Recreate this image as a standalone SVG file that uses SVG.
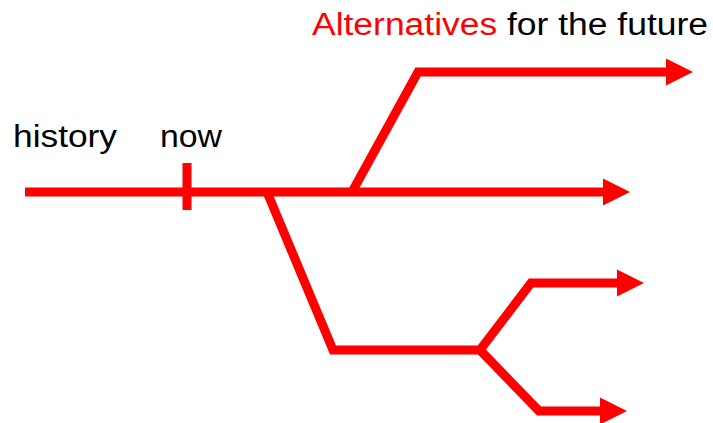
<svg xmlns="http://www.w3.org/2000/svg" width="713" height="423" viewBox="0 0 713 423">
<style>
.ln{fill:none;stroke:#ff0000;stroke-width:9;stroke-linejoin:miter;stroke-linecap:butt}
.tx{font-family:"Liberation Sans",Arial,sans-serif;font-size:31px;fill:#000}
.red{fill:#ff0000}
</style>
<defs>
<marker id="ah" markerUnits="userSpaceOnUse" markerWidth="27" markerHeight="27" refX="0" refY="13.5" orient="auto" overflow="visible">
<path d="M0,0 L27,13.5 L0,27 Z" fill="#ff0000"/>
</marker>
</defs>
<rect width="713" height="423" fill="#fff"/>
<g id="labels">
<text id="title" class="tx" x="312" y="35" textLength="396" lengthAdjust="spacingAndGlyphs"><tspan class="red">Alternatives</tspan> for the future</text>
<text id="history" class="tx" x="13" y="147" textLength="104" lengthAdjust="spacingAndGlyphs">history</text>
<text id="now" class="tx" x="160" y="147" textLength="62" lengthAdjust="spacingAndGlyphs">now</text>
</g>
<g id="connectors">
<line class="ln" x1="25" y1="192" x2="603" y2="192" marker-end="url(#ah)"/>
<line class="ln" x1="187" y1="163" x2="187" y2="210"/>
<polyline class="ln" points="352,192 418,72 666,72" marker-end="url(#ah)"/>
<polyline class="ln" points="267,192 333,350 480,350"/>
<polyline class="ln" points="480,350 531,283 617,283" marker-end="url(#ah)"/>
<polyline class="ln" points="480,350 539,411 600,411" marker-end="url(#ah)"/>
</g>
</svg>
